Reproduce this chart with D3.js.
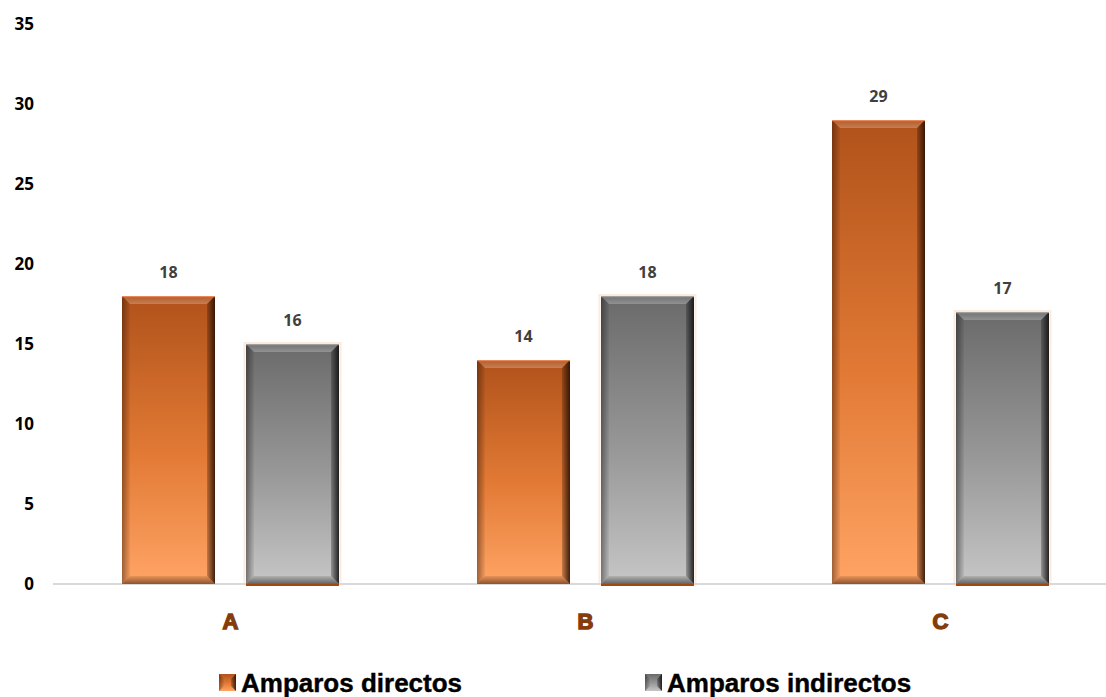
<!DOCTYPE html>
<html><head><meta charset="utf-8">
<script src="https://cdn.jsdelivr.net/npm/d3@7"></script>
<style>body{margin:0;background:#fff}svg{display:block}</style>
</head><body>
<svg id="chart" width="1106" height="697"></svg>
<script>
const categories = ["A", "B", "C"];
const seriesNames = ["Amparos directos", "Amparos indirectos"];
const directos = [18, 14, 29];
const indirectos = [15, 18, 17];
const labelsDirectos = ["18", "14", "29"];
const labelsIndirectos = ["16", "18", "17"];
const yTicks = [0, 5, 10, 15, 20, 25, 30, 35];

const svg = d3.select("#chart");
const W = 1106, H = 697;
const x0 = d3.scaleBand().domain(categories).range([53, 1118]).paddingInner(0).paddingOuter(0);
const x1 = d3.scaleBand().domain(seriesNames).range([69, 286]).paddingInner(0.25);
const y = d3.scaleLinear().domain([0, 35]).range([584, 24]);

const defs = svg.append("defs");
function grad(id, top, mid, bottom) {
  const g = defs.append("linearGradient").attr("id", id).attr("x1", 0).attr("y1", 0).attr("x2", 0).attr("y2", 1);
  g.append("stop").attr("offset", "0%").attr("stop-color", top);
  g.append("stop").attr("offset", "55%").attr("stop-color", mid);
  g.append("stop").attr("offset", "100%").attr("stop-color", bottom);
}
grad("gO", "#b0521b", "#e27a35", "#ffa465");
grad("gG", "#6a6a6a", "#999999", "#c6c6c6");
function hgrad(id, x1, x2, col, o1, o2) {
  const g = defs.append("linearGradient").attr("id", id).attr("x1", x1).attr("y1", 0).attr("x2", x2).attr("y2", 0);
  g.append("stop").attr("offset", "0%").attr("stop-color", col).attr("stop-opacity", o1);
  g.append("stop").attr("offset", "100%").attr("stop-color", col).attr("stop-opacity", o2);
}
function vgrad(id, col, o1, o2) {
  const g = defs.append("linearGradient").attr("id", id).attr("x1", 0).attr("y1", 0).attr("x2", 0).attr("y2", 1);
  g.append("stop").attr("offset", "0%").attr("stop-color", col).attr("stop-opacity", o1);
  g.append("stop").attr("offset", "100%").attr("stop-color", col).attr("stop-opacity", o2);
}
hgrad("rO", 0, 1, "#2a1002", 0.25, 0.9);
hgrad("rG", 0, 1, "#101010", 0.25, 0.9);
hgrad("lO", 0, 1, "#2a1002", 0.45, 0.05);
hgrad("lG", 0, 1, "#101010", 0.45, 0.05);
vgrad("bO", "#2a1002", 0.1, 0.55);
vgrad("bG", "#101010", 0.1, 0.55);
vgrad("tW", "#ffffff", 0.05, 0.25);
const colors = {"Amparos directos": "gO", "Amparos indirectos": "gG"};
const sfx = {"Amparos directos": "O", "Amparos indirectos": "G"};

// y axis labels
const yAxis = d3.axisLeft(y).tickValues(yTicks).tickSize(0).tickPadding(0);
const ya = svg.append("g").attr("transform", "translate(34,0)").call(yAxis);
ya.select(".domain").remove();
ya.selectAll("text").attr("font-family", "'Open Sans', sans-serif").attr("font-weight", 700)
  .attr("font-size", 17).attr("fill", "#000").attr("dy", "0.35em");

// baseline
svg.append("line").attr("x1", 53).attr("x2", W).attr("y1", y(0)).attr("y2", y(0))
  .attr("stroke", "#d9d9d9").attr("stroke-width", 2);

const data = [];
categories.forEach((c, i) => {
  data.push({cat: c, s: seriesNames[0], v: directos[i], lab: labelsDirectos[i]});
  data.push({cat: c, s: seriesNames[1], v: indirectos[i], lab: labelsIndirectos[i]});
});

const bev = 8;
data.forEach(d => {
  const bx = x0(d.cat) + x1(d.s), bw = x1.bandwidth();
  const by = y(d.v), bh = y(0) - y(d.v);
  const g = svg.append("g");
  const k = sfx[d.s];
  if (d.s === seriesNames[1]) {
    g.append("rect").attr("x", bx - 1.5).attr("y", by - 1).attr("width", bw + 3).attr("height", bh + 1)
      .attr("fill", "none").attr("stroke", "#f6d2b6").attr("stroke-width", 2).attr("opacity", 0.45);
    g.append("rect").attr("x", bx).attr("y", y(0)).attr("width", bw).attr("height", 2).attr("fill", "#a2470f");
  }
  g.append("rect").attr("x", bx).attr("y", by).attr("width", bw).attr("height", bh).attr("fill", `url(#${colors[d.s]})`);
  const x2 = bx + bw, y2 = by + bh;
  const poly = (pts, fill) => g.append("polygon").attr("points", pts.map(p => p.join(",")).join(" ")).attr("fill", fill);
  poly([[bx, by], [x2, by], [x2 - bev, by + bev], [bx + bev, by + bev]], "url(#tW)");
  poly([[x2, by], [x2, y2], [x2 - bev, y2 - bev], [x2 - bev, by + bev]], `url(#r${k})`);
  poly([[bx, by], [bx + bev, by + bev], [bx + bev, y2 - bev], [bx, y2]], `url(#l${k})`);
  poly([[bx, y2], [bx + bev, y2 - bev], [x2 - bev, y2 - bev], [x2, y2]], `url(#b${k})`);
  g.append("rect").attr("x", bx).attr("y", by).attr("width", bw).attr("height", 1.2).attr("fill", d.s === seriesNames[0] ? "#e8875a" : "#a0a0a0");
  svg.append("text").attr("x", bx + bw / 2).attr("y", by - 24).attr("dy", "0.35em").attr("text-anchor", "middle")
    .attr("font-family", "'Open Sans', sans-serif").attr("font-weight", 700).attr("font-size", 16).attr("fill", "#404040")
    .text(d.lab);
});

// category labels
const xAxis = d3.axisBottom(x0).tickSize(0).tickPadding(0);
const xa = svg.append("g").attr("transform", "translate(0,621)").call(xAxis);
xa.select(".domain").remove();
xa.selectAll("text").attr("dy", "0.35em").attr("font-family", "'Liberation Sans', Arial, sans-serif").attr("font-weight", 900)
  .attr("font-size", 22).attr("fill", "#843c0c").attr("stroke", "#843c0c").attr("stroke-width", 1.4);

// legend
const legendX = [219, 645];
seriesNames.forEach((s, i) => {
  const k = sfx[s];
  const lg = svg.append("g").attr("transform", `translate(${legendX[i]},674)`);
  lg.append("rect").attr("width", 17).attr("height", 17).attr("fill", `url(#${colors[s]})`);
  lg.append("polygon").attr("points", [[17,0],[17,17],[12,12],[12,5]].map(p=>p.join(",")).join(" ")).attr("fill", `url(#r${k})`);
  lg.append("polygon").attr("points", [[0,0],[5,5],[5,12],[0,17]].map(p=>p.join(",")).join(" ")).attr("fill", `url(#l${k})`);
  lg.append("text").attr("x", 22).attr("y", 8.5).attr("dy", "0.35em")
    .attr("font-family", "'Liberation Sans', Arial, sans-serif").attr("font-weight", 700).attr("font-size", 26).attr("fill", "#000")
    .attr("stroke", "#000").attr("stroke-width", 0.4)
    .text(s);
});
</script>
</body></html>
